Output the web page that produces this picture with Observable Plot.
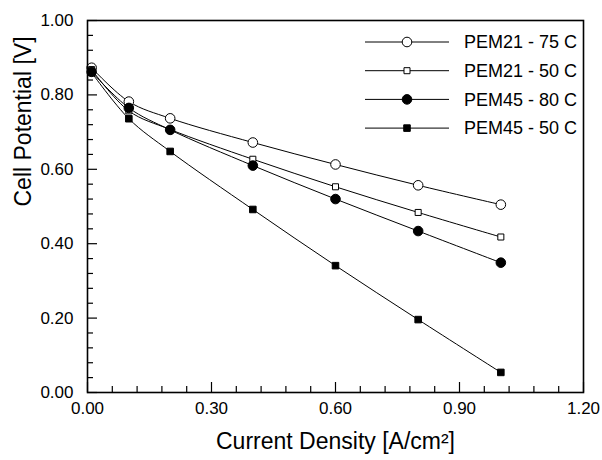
<!DOCTYPE html>
<html>
<head>
<meta charset="utf-8">
<script src="https://cdn.jsdelivr.net/npm/d3@7"></script>
<script src="https://cdn.jsdelivr.net/npm/@observablehq/plot@0.6"></script>
<style>
  html, body { margin: 0; padding: 0; background: #fff; }
  #chart { width: 602px; height: 460px; }
  svg { font-family: "Liberation Sans", Arial, sans-serif; }
</style>
</head>
<body>
<div id="chart"></div>
<script>
const currentDensity = [0.01, 0.1, 0.2, 0.4, 0.6, 0.8, 1.0];
const pem21_75 = [0.873, 0.782, 0.737, 0.672, 0.613, 0.557, 0.505];
const pem21_50 = [0.868, 0.757, 0.707, 0.627, 0.553, 0.484, 0.418];
const pem45_80 = [0.862, 0.765, 0.706, 0.610, 0.520, 0.434, 0.349];
const pem45_50 = [0.860, 0.736, 0.648, 0.492, 0.341, 0.196, 0.054];

const seriesNames = ["PEM21 - 75 C", "PEM21 - 50 C", "PEM45 - 80 C", "PEM45 - 50 C"];
const seriesValues = [pem21_75, pem21_50, pem45_80, pem45_50];
const seriesSymbol = ["circle", "square", "circle", "square"];
const seriesFill = ["white", "white", "black", "black"];
const seriesR = [4.8, 3.4, 4.8, 3.7];

const xMajor = [0, 0.3, 0.6, 0.9, 1.2];
const xMinor = d3.range(0, 1.2001, 0.06).filter(v => !xMajor.some(m => Math.abs(m - v) < 1e-6));
const yMajor = [0, 0.2, 0.4, 0.6, 0.8, 1.0];
const yMinor = d3.range(0, 1.0001, 0.04).filter(v => !yMajor.some(m => Math.abs(m - v) < 1e-6));

const xTitle = "Current Density [A/cm²]";
const yTitle = "Cell Potential [V]";

const rows = [];
seriesNames.forEach((name, i) => {
  currentDensity.forEach((x, j) => {
    rows.push({series: name, idx: i, x, y: seriesValues[i][j]});
  });
});

const W = 602, H = 460;
const mL = 87, mR = 19, mT = 20, mB = 68;
const innerW = W - mL - mR, innerH = H - mT - mB;

const dotMarks = seriesNames.map((name, i) =>
  Plot.dot(rows.filter(d => d.idx === i), {
    x: "x", y: "y", symbol: () => seriesSymbol[i], r: seriesR[i],
    fill: seriesFill[i], stroke: "black", strokeWidth: 1
  })
);

const chart = Plot.plot({
  width: W, height: H,
  marginLeft: mL, marginRight: mR, marginTop: mT, marginBottom: mB,
  style: {fontFamily: "Liberation Sans, Arial, sans-serif", background: "white"},
  x: {domain: [0, 1.2]},
  y: {domain: [0, 1.0]},
  symbol: {type: "identity"},
  marks: [
    Plot.axisX(xMajor, {tickSize: 0, tickPadding: 9, tickFormat: d3.format(".2f"), fontSize: 17, label: null, color: "black"}),
    Plot.axisY(yMajor, {tickSize: 0, tickPadding: 14, tickFormat: d3.format(".2f"), fontSize: 17, label: null, color: "black"}),
    Plot.tickX(xMajor, {x: d => d, insetTop: innerH - 10, stroke: "black", strokeWidth: 1.2}),
    Plot.tickX(xMinor, {x: d => d, insetTop: innerH - 6, stroke: "black", strokeWidth: 1.2}),
    Plot.tickY(yMajor, {y: d => d, insetRight: innerW - 10, stroke: "black", strokeWidth: 1.2}),
    Plot.tickY(yMinor, {y: d => d, insetRight: innerW - 6, stroke: "black", strokeWidth: 1.2}),
    Plot.line(rows, {x: "x", y: "y", z: "series", curve: "catmull-rom", stroke: "black", strokeWidth: 1}),
    ...dotMarks,
    Plot.frame({stroke: "black", strokeWidth: 1.6}),
    Plot.text([xTitle], {frameAnchor: "bottom", dy: 56, fontSize: 23, fill: "black", text: d => d}),
    Plot.text([yTitle], {frameAnchor: "left", dx: -64, rotate: -90, fontSize: 23, fill: "black", text: d => d})
  ]
});

document.getElementById("chart").appendChild(chart);

// Legend (inside plot, top-right)
const svg = d3.select(chart);
const lg = svg.append("g").attr("class", "legend").attr("text-anchor", "start");
const lx0 = 365, lx1 = 449, lmx = 407, ltx = 464, ly0 = 42, ldy = 28.7;
seriesNames.forEach((name, i) => {
  const yy = ly0 + i * ldy;
  lg.append("line").attr("x1", lx0).attr("x2", lx1).attr("y1", yy).attr("y2", yy)
    .attr("stroke", "black").attr("stroke-width", 1);
  const sym = seriesSymbol[i] === "circle" ? d3.symbolCircle : d3.symbolSquare;
  const size = Math.PI * seriesR[i] * seriesR[i];
  lg.append("path").attr("d", d3.symbol(sym, size)())
    .attr("transform", `translate(${lmx},${yy})`)
    .attr("fill", seriesFill[i]).attr("stroke", "black").attr("stroke-width", 1);
  lg.append("text").attr("x", ltx).attr("y", yy).attr("dy", "0.35em")
    .attr("text-anchor", "start")
    .attr("font-size", 18).attr("fill", "black").text(name);
});
</script>
</body>
</html>
